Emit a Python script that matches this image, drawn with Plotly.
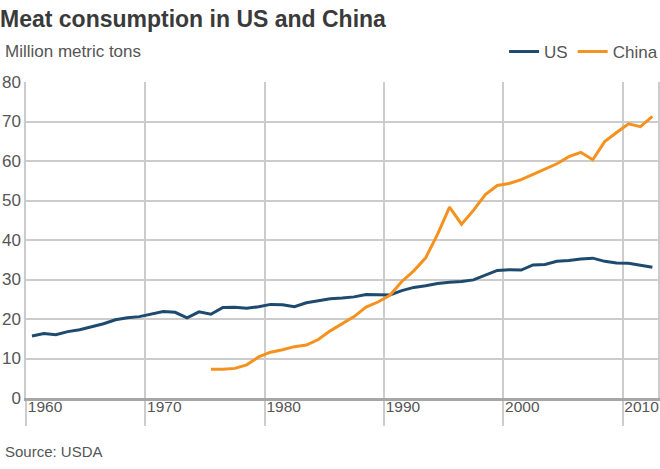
import plotly.graph_objects as go

# ---- data (million metric tons) ----
us_years = [1960, 1961, 1962, 1963, 1964, 1965, 1966, 1967, 1968, 1969,
            1970, 1971, 1972, 1973, 1974, 1975, 1976, 1977, 1978, 1979,
            1980, 1981, 1982, 1983, 1984, 1985, 1986, 1987, 1988, 1989,
            1990, 1991, 1992, 1993, 1994, 1995, 1996, 1997, 1998, 1999,
            2000, 2001, 2002, 2003, 2004, 2005, 2006, 2007, 2008, 2009,
            2010, 2011, 2012]
us_values = [15.7, 16.3, 16.0, 16.8, 17.3, 18.0, 18.8, 19.8, 20.3, 20.6,
             21.3, 21.9, 21.7, 20.3, 21.8, 21.2, 22.9, 23.0, 22.7, 23.1,
             23.7, 23.6, 23.1, 24.1, 24.6, 25.1, 25.3, 25.6, 26.2, 26.2,
             26.1, 27.2, 28.0, 28.4, 29.0, 29.3, 29.5, 29.9, 31.2, 32.3,
             32.5, 32.4, 33.7, 33.8, 34.6, 34.8, 35.2, 35.4, 34.6, 34.2,
             34.1, 33.6, 33.1]

china_years = [1975, 1976, 1977, 1978, 1979,
               1980, 1981, 1982, 1983, 1984, 1985, 1986, 1987, 1988, 1989,
               1990, 1991, 1992, 1993, 1994, 1995, 1996, 1997, 1998, 1999,
               2000, 2001, 2002, 2003, 2004, 2005, 2006, 2007, 2008, 2009,
               2010, 2011, 2012]
china_values = [7.3, 7.3, 7.5, 8.4, 10.4,
                11.6, 12.2, 13.0, 13.4, 14.8, 17.0, 18.7, 20.6, 23.0, 24.3,
                26.0, 29.5, 32.2, 35.5, 41.5, 48.3, 44.0, 47.5, 51.5, 53.8,
                54.3, 55.3, 56.6, 58.0, 59.3, 61.1, 62.2, 60.3, 64.9, 67.2,
                69.4, 68.7, 71.3]

tick_years = [1960, 1970, 1980, 1990, 2000, 2010]
tick_labels = ["1960", "1970", "1980", "1990", "2000", "2010"]
y_ticks = [0, 10, 20, 30, 40, 50, 60, 70, 80]

FONT = "Liberation Sans, Arial, Helvetica, sans-serif"
US_COLOR = "#1d4a6e"
CHINA_COLOR = "#f5921f"
GRID = "#cccccc"

fig = go.Figure()
fig.add_trace(go.Scatter(x=us_years, y=us_values, mode="lines", name="US",
                         line=dict(color=US_COLOR, width=3)))
fig.add_trace(go.Scatter(x=china_years, y=china_values, mode="lines", name="China",
                         line=dict(color=CHINA_COLOR, width=3)))

fig.update_layout(
    width=660, height=469,
    margin=dict(l=26, r=2, t=82, b=71, autoexpand=False),
    paper_bgcolor="white", plot_bgcolor="white",
    font=dict(family=FONT, color="#555555"),
    title=dict(text="<b>Meat consumption in US and China</b>",
               x=0, xanchor="left", xref="container",
               y=0.96, yanchor="middle", yref="container",
               pad=dict(l=0, r=0, t=0, b=0),
               font=dict(family=FONT, size=23, color="#3a3a3a")),
    showlegend=True,
    legend=dict(orientation="h", x=1.008, xanchor="right", y=1.095, yanchor="middle",
                font=dict(family=FONT, size=17, color="#555555"),
                bgcolor="rgba(0,0,0,0)", itemwidth=30, tracegroupgap=0),
    xaxis=dict(range=[1959.5, 2012.47],
               tickmode="array",
               tickvals=[t - 0.5 for t in tick_years],
               ticktext=tick_labels,
               showgrid=True, gridcolor=GRID, gridwidth=1.5,
               ticks="outside", ticklen=25, tickcolor=GRID, tickwidth=1.5,
               ticklabelshift=19, ticklabelstandoff=-33,
               ticklabeloverflow="allow",
               tickfont=dict(family=FONT, size=15.5, color="#555555"),
               showline=True, linecolor="#a6a6a6", linewidth=3,
               zeroline=False, fixedrange=True, automargin=False),
    yaxis=dict(range=[0, 80], tickmode="array", tickvals=y_ticks,
               showgrid=True, gridcolor=GRID, gridwidth=1.5,
               ticks="", showline=True, mirror=True, linecolor=GRID, linewidth=1.5,
               tickfont=dict(family=FONT, size=17, color="#555555"),
               zeroline=False, fixedrange=True, automargin=False),
    annotations=[
        dict(text="Million metric tons", xref="paper", yref="paper",
             x=-0.037, y=1.095, xanchor="left", yanchor="middle", showarrow=False,
             font=dict(family=FONT, size=17, color="#555555")),
        dict(text="Source: USDA", xref="paper", yref="paper",
             x=-0.037, y=-0.168, xanchor="left", yanchor="middle", showarrow=False,
             font=dict(family=FONT, size=15, color="#555555")),
    ],
)

fig.write_html("out.html", config={"displayModeBar": False},
               post_script="document.body.style.margin='0';")
